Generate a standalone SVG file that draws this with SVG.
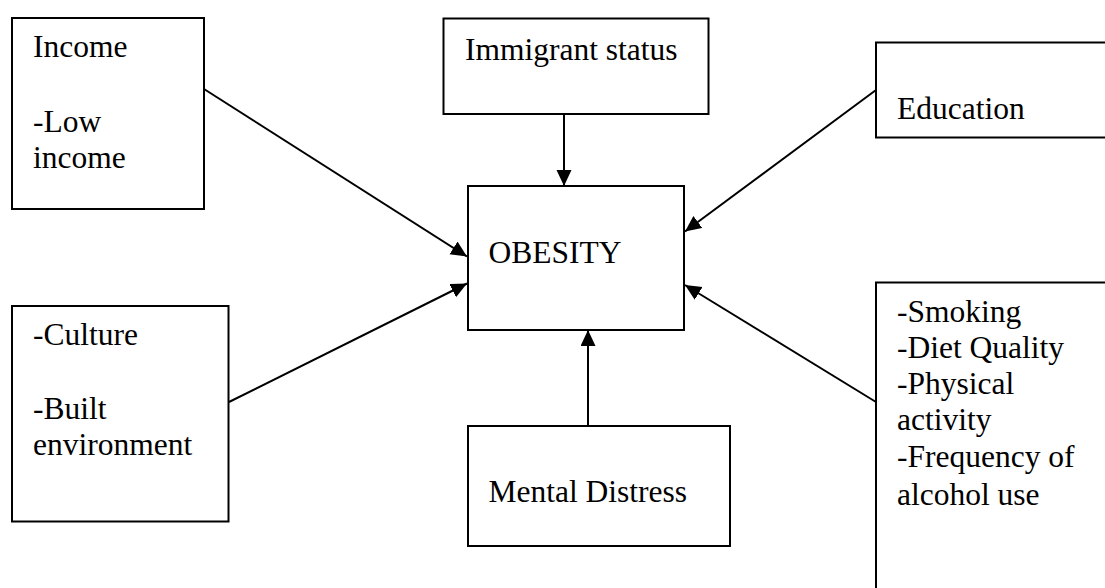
<svg xmlns="http://www.w3.org/2000/svg" width="1105" height="588" viewBox="0 0 1105 588">
<defs>
<style>
.box{fill:#fff;stroke:#000;stroke-width:2}
.t{font-family:"Liberation Serif","Times New Roman",serif;font-size:31.5px;fill:#000}
.c{stroke:#000;stroke-width:2;fill:none;marker-end:url(#ah)}
</style>
<marker id="ah" markerUnits="userSpaceOnUse" markerWidth="17" markerHeight="16" refX="16" refY="7.5" orient="auto">
<path d="M0,0 L16,7.5 L0,15 z" fill="#000"/>
</marker>
</defs>
<rect width="1105" height="588" fill="#fff"/>
<g id="connectors">
<line class="c" x1="204" y1="89" x2="467" y2="256.5"/>
<line class="c" x1="564" y1="114" x2="564" y2="186"/>
<line class="c" x1="876" y1="90" x2="685" y2="231.5"/>
<line class="c" x1="229" y1="402" x2="467" y2="283.5"/>
<line class="c" x1="876" y1="402" x2="685" y2="285"/>
<line class="c" x1="588" y1="426" x2="588" y2="330"/>
</g>
<g id="income">
<rect class="box" x="12" y="18" width="192" height="191"/>
<text class="t" x="33" y="57">Income</text>
<text class="t" x="33" y="132">-Low</text>
<text class="t" x="33" y="168">income</text>
</g>
<g id="immigrant">
<rect class="box" x="443.5" y="18.5" width="265" height="95.5"/>
<text class="t" x="465" y="59.5">Immigrant status</text>
</g>
<g id="education">
<rect class="box" x="876" y="42.5" width="240" height="95"/>
<text class="t" x="897" y="118.5">Education</text>
</g>
<g id="obesity">
<rect class="box" x="468" y="186" width="216" height="144"/>
<text class="t" x="488.5" y="263">OBESITY</text>
</g>
<g id="culture">
<rect class="box" x="12" y="306" width="216.5" height="215.5"/>
<text class="t" x="33" y="345">-Culture</text>
<text class="t" x="33" y="418.5">-Built</text>
<text class="t" x="33" y="455">environment</text>
</g>
<g id="mental">
<rect class="box" x="468" y="426" width="262" height="120"/>
<text class="t" x="488.5" y="502">Mental Distress</text>
</g>
<g id="lifestyle">
<rect class="box" x="876" y="282.5" width="240" height="320"/>
<text class="t" x="897" y="321.5">-Smoking</text>
<text class="t" x="897" y="357.5">-Diet Quality</text>
<text class="t" x="897" y="394">-Physical</text>
<text class="t" x="897" y="430">activity</text>
<text class="t" x="897" y="466.5">-Frequency of</text>
<text class="t" x="897" y="505">alcohol use</text>
</g>
</svg>
